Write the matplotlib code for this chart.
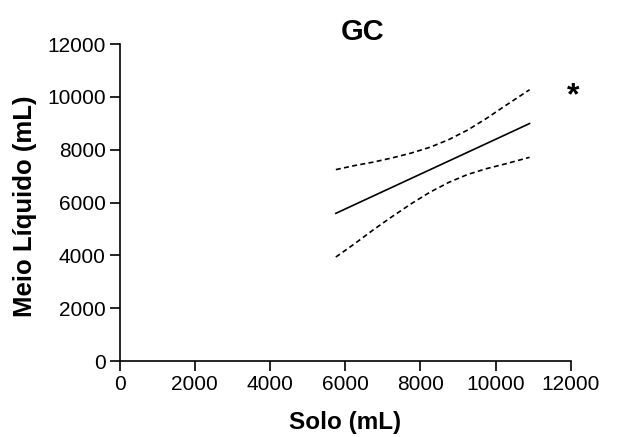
import matplotlib
matplotlib.use('Agg')
import matplotlib.pyplot as plt

plt.rcParams['font.family'] = ['Liberation Sans', 'DejaVu Sans']

# regressao linear e intervalo de confianca
solo = [5750, 6250, 6750, 7250, 7750, 8250, 8750, 9250, 9750, 10250, 10900]
reta = [5590, 5920, 6250, 6580, 6910, 7240, 7570, 7900, 8230, 8560, 8990]
ic_sup = [7245, 7400, 7530, 7690, 7870, 8090, 8380, 8740, 9180, 9660, 10270]
ic_inf = [3935, 4440, 4970, 5470, 5950, 6390, 6760, 7060, 7280, 7460, 7710]
ticks = [0, 2000, 4000, 6000, 8000, 10000, 12000]

fig = plt.figure(figsize=(6.28, 4.37), dpi=100)
ax = fig.add_axes([0.1903, 0.1739, 0.7189, 0.7254])

ax.plot(solo, reta, color='black', lw=1.2)
ax.plot(solo, ic_sup, color='black', lw=1.2, ls=(0, (3, 2)))
ax.plot(solo, ic_inf, color='black', lw=1.2, ls=(0, (3, 2)))

ax.set_xlim(0, 12000)
ax.set_ylim(0, 12000)
ax.set_xticks(ticks)
ax.set_yticks(ticks)
ax.spines['top'].set_visible(False)
ax.spines['right'].set_visible(False)
for s in ['left', 'bottom']:
    ax.spines[s].set_linewidth(1.2)
ax.tick_params(direction='out', length=7, width=1.2, labelsize=15, pad=3)

ax.set_xlabel('Solo (mL)', fontsize=17.5, fontweight='bold', labelpad=12)
ax.set_ylabel('Meio Líquido (mL)', fontsize=18.5, fontweight='bold')
ax.yaxis.set_label_coords(-0.183, 0.487)
fig.text(363 / 628, 1 - 32 / 437, 'GC', fontsize=21, fontweight='bold',
         ha='center', va='center')
ax.text(12050, 10030, '*', fontsize=23, fontweight='bold', ha='center',
        va='center', clip_on=False)

fig.savefig('out.png', dpi=100)
